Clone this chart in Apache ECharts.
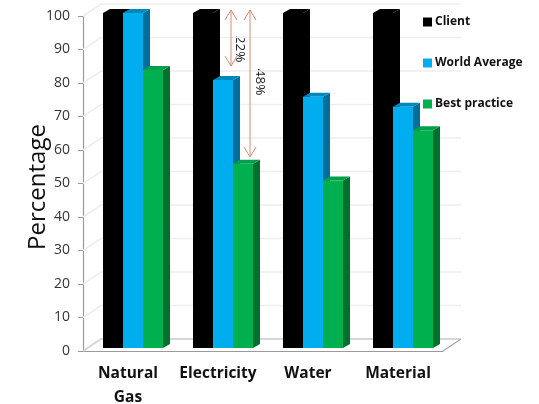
<!DOCTYPE html>
<html>
<head>
<meta charset="utf-8">
<style>
  html, body { margin: 0; padding: 0; background: #fff; }
  #chart { width: 539px; height: 404px; }
</style>
<script src="https://cdn.jsdelivr.net/npm/echarts@6/dist/echarts.min.js"></script>
</head>
<body>
<div id="chart"></div>
<script>
const categories = ["Natural\nGas", "Electricity", "Water", "Material"];
const client = [100, 100, 100, 100];
const worldAverage = [100, 80, 75, 72];
const bestPractice = [83, 55, 50, 65];
const wallTicks = [0, 10, 20, 30, 40, 50, 60, 70, 80, 90, 100];

const font = "'Open Sans', 'Noto Sans', sans-serif";
const barW = 20;
const depthX = 7;
const depthY = 4;
const wallX = 18;
const wallY = 12;

// 3d looking bar: front face, right side and top cap
const bar3d = (slot, front, side, cap) => (params, api) => {
  const top = api.coord([api.value(0), api.value(1)]);
  const base = api.coord([api.value(0), 0]);
  const x0 = top[0] + 5 + (slot - 1.5) * barW;
  const x1 = x0 + barW;
  const y0 = top[1] - 3;
  const y1 = base[1] - 3;
  const poly = (points, fill) => ({ type: "polygon", shape: { points }, style: { fill } });
  return {
    type: "group",
    children: [
      poly([[x1, y0], [x1 + depthX, y0 - depthY], [x1 + depthX, y1 - depthY], [x1, y1]], side),
      poly([[x0, y0], [x0 + depthX, y0 - depthY], [x1 + depthX, y0 - depthY], [x1, y0]], cap),
      poly([[x0, y0], [x1, y0], [x1, y1], [x0, y1]], front)
    ]
  };
};

const barSeries = (name, values, slot, front, side, cap) => ({
  name,
  type: "custom",
  clip: false,
  z: 3 + slot,
  itemStyle: { color: front },
  encode: { x: 0, y: 1 },
  data: values.map((v, i) => [i, v]),
  renderItem: bar3d(slot, front, side, cap)
});

// back wall gridlines, they start at the y axis tick and run along the wall
const renderWall = (params, api) => {
  const left = api.coord([0, api.value(0)]);
  const right = api.coord([categories.length - 1, api.value(0)]);
  const xa = left[0] - 45;
  const xb = right[0] + 45;
  const y = left[1];
  const isFloor = api.value(0) === 0;
  const stroke = isFloor ? "#d6d6d6" : "#eeeeee";
  const children = [
    {
      type: "polyline",
      shape: { points: [[xa, y], [xa + wallX, y - wallY], [xb + wallX, y - wallY]] },
      style: { stroke, lineWidth: isFloor ? 2 : 1.6, fill: null }
    }
  ];
  if (isFloor) {
    children.push({
      type: "line",
      shape: { x1: xb, y1: y, x2: xb + wallX, y2: y - wallY },
      style: { stroke: "#a6a6a6", lineWidth: 1.2 }
    });
  }
  return { type: "group", children };
};

// double headed arrow with the open heads of the original drawing
const arrow = (x, y1, y2) => {
  const color = "#dc8a72";
  const line = (x1, ya, x2, yb) => ({
    type: "line",
    shape: { x1, y1: ya, x2, y2: yb },
    style: { stroke: color, lineWidth: 1 }
  });
  return [
    line(x, y1, x, y2),
    line(x - 6, y1 + 10, x, y1),
    line(x + 6, y1 + 10, x, y1),
    line(x - 6, y2 - 10, x, y2),
    line(x + 6, y2 - 10, x, y2)
  ];
};

const arrowLabel = (text, x, y) => ({
  type: "text",
  x,
  y,
  rotation: -Math.PI / 2,
  style: { text, fill: "#222", font: "13.5px " + font, align: "center", verticalAlign: "middle" }
});

const chart = echarts.init(document.getElementById("chart"), null, { renderer: "canvas" });
chart.setOption({
  animation: false,
  backgroundColor: "#fff",
  grid: { left: 83, right: 96, top: 16, bottom: 53, outerBoundsMode: "none" },
  legend: {
    data: ["Client", "World Average", "Best practice"],
    orient: "vertical",
    left: 418,
    top: 11,
    itemWidth: 9,
    itemHeight: 9,
    itemGap: 29,
    icon: "rect",
    textStyle: { color: "#111", fontFamily: font, fontWeight: "bold", fontSize: 12, padding: [0, 0, 0, -2] }
  },
  xAxis: {
    type: "category",
    data: categories,
    axisLine: { lineStyle: { color: "#9a9a9a", width: 1.2 } },
    axisTick: { length: 6, lineStyle: { color: "#9a9a9a" } },
    axisLabel: {
      color: "#111",
      fontFamily: font,
      fontWeight: "bold",
      fontSize: 15.5,
      lineHeight: 24,
      margin: 11,
      interval: 0
    }
  },
  yAxis: {
    type: "value",
    min: 0,
    max: 100,
    interval: 10,
    name: "Percentage",
    nameLocation: "middle",
    nameRotate: 90,
    nameGap: 33,
    nameMoveOverlap: false,
    nameTextStyle: { color: "#111", fontFamily: font, fontSize: 24, padding: [0, 7, 0, 0] },
    axisLine: { show: true, lineStyle: { color: "#9a9a9a", width: 1.2 } },
    axisTick: { show: true, length: 5, lineStyle: { color: "#9a9a9a" } },
    axisLabel: { color: "#333", fontFamily: font, fontSize: 14, margin: 13, padding: [5, 0, 0, 0] },
    splitLine: { show: false }
  },
  series: [
    {
      type: "custom",
      clip: false,
      z: 1,
      silent: true,
      encode: { y: 0 },
      data: wallTicks.map((v) => [v]),
      renderItem: renderWall
    },
    barSeries("Client", client, 0, "#000000", "#000000", "#000000"),
    barSeries("World Average", worldAverage, 1, "#00aeef", "#006f9b", "#0088bb"),
    barSeries("Best practice", bestPractice, 2, "#00b04f", "#00702f", "#00a04a")
  ],
  graphic: [
    ...arrow(231, 10, 66).map((g) => ({ ...g, z: 20 })),
    ...arrow(250, 10, 157).map((g) => ({ ...g, z: 20 })),
    arrowLabel("22%", 240, 49),
    arrowLabel("48%", 260, 82)
  ]
});
</script>
</body>
</html>
